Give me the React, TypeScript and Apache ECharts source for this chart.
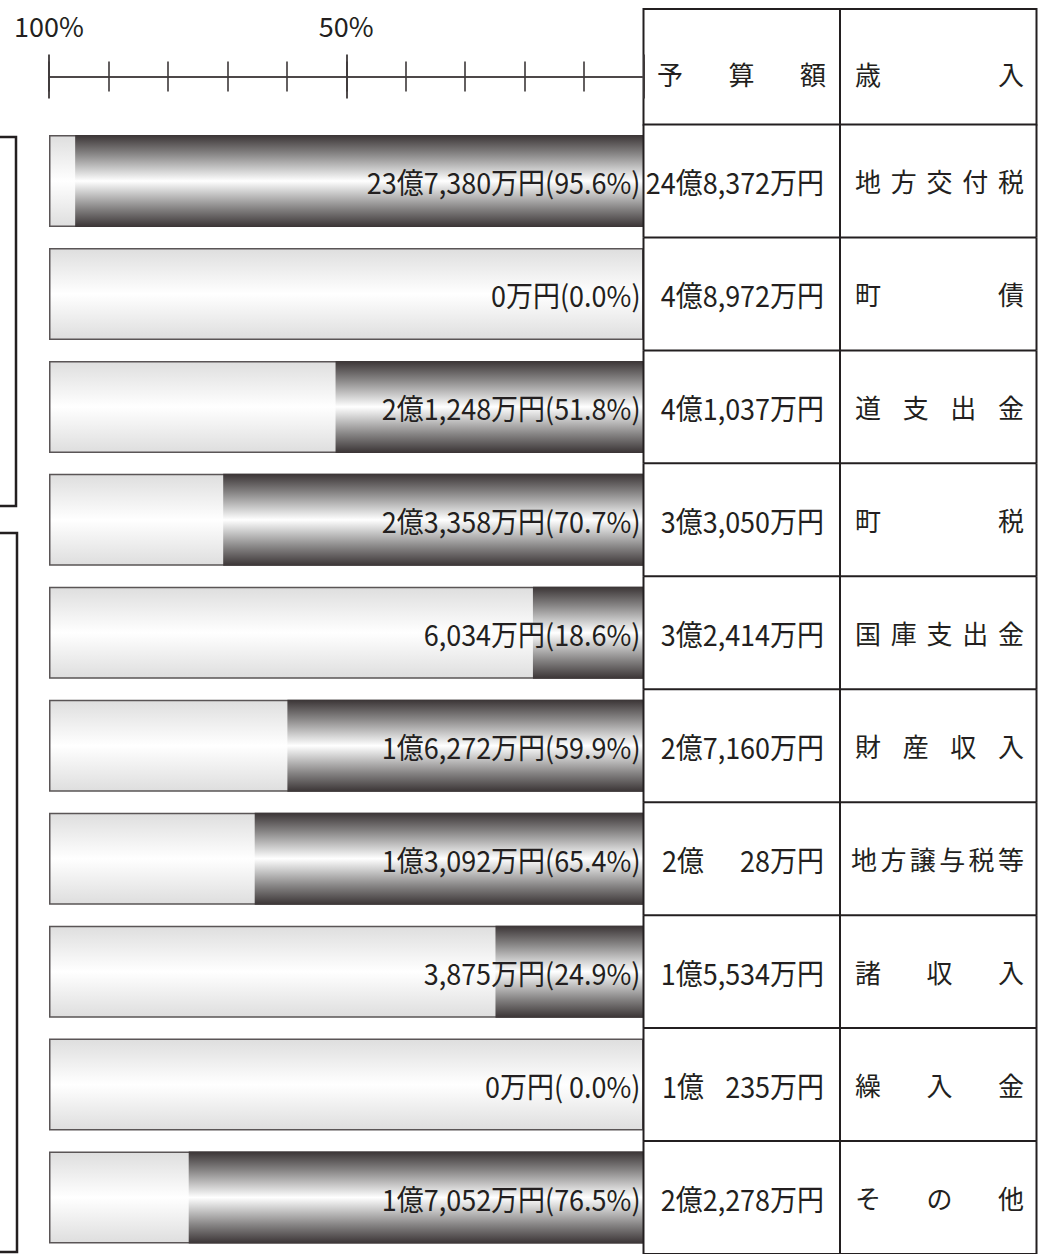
import React, { useEffect, useRef } from "react";
import * as echarts from "echarts";

// ---- data ----
const categories = ["地方交付税", "町債", "道支出金", "町税", "国庫支出金", "財産収入", "地方譲与税等", "諸収入", "繰入金", "その他"];
const budgets = ["24億8,372万円", "4億8,972万円", "4億1,037万円", "3億3,050万円", "3億2,414万円", "2億7,160万円", "2億 28万円", "1億5,534万円", "1億 235万円", "2億2,278万円"];
const received = ["23億7,380万円", "0万円", "2億1,248万円", "2億3,358万円", "6,034万円", "1億6,272万円", "1億3,092万円", "3,875万円", "0万円", "1億7,052万円"];
const rateTexts = ["95.6", "0.0", "51.8", "70.7", "18.6", "59.9", "65.4", "24.9", " 0.0", "76.5"];
const rates = rateTexts.map((t) => Number(t));
const fullShare = [100, 100, 100, 100, 100, 100, 100, 100, 100, 100];
const axisTickLabels = ["100%", "50%"];
const headerBudget = "予算額";
const headerRevenue = "歳入";

// ---- style/layout constants ----
const INK = "#231f20";
const FONT = "'Noto Sans CJK JP', 'Noto Sans', sans-serif";
const COL0 = 643.5;
const COL1 = 840;
const COL2 = 1036.5;
const TABLE_TOP = 9;
const GRID_TOP = 124.5;
const VAL_SIZE = 29;
const VAL_SCALE = 0.93;
const CJK_SIZE = 26;

const darkGrad = {
  type: "linear", x: 0, y: 0, x2: 0, y2: 1,
  colorStops: [
    { offset: 0, color: "#3a3435" },
    { offset: 0.2, color: "#858383" },
    { offset: 0.4, color: "#d6d6d6" },
    { offset: 0.5, color: "#ffffff" },
    { offset: 0.6, color: "#d6d6d6" },
    { offset: 0.8, color: "#858383" },
    { offset: 1, color: "#3a3435" },
  ],
};
const lightGrad = {
  type: "linear", x: 0, y: 0, x2: 0, y2: 1,
  colorStops: [
    { offset: 0, color: "#dedede" },
    { offset: 0.5, color: "#ffffff" },
    { offset: 1, color: "#dedede" },
  ],
};

function spreadChars(text: string, left: number, right: number, y: number, size: number) {
  const chars = Array.from(text);
  const n = chars.length;
  const out: any[] = [];
  chars.forEach((c, k) => {
    const x = n === 1 ? left : left + (k * (right - left - size)) / (n - 1);
    out.push({
      type: "text",
      x,
      y,
      style: { text: c, font: `${size}px ${FONT}`, fill: INK, align: "left", verticalAlign: "middle" },
    });
  });
  return out;
}

function valText(text: string, x: number, y: number, align: string) {
  return {
    type: "text",
    x,
    y,
    scaleX: VAL_SCALE,
    style: { text, font: `${VAL_SIZE}px ${FONT}`, fill: INK, align, verticalAlign: "middle" },
  };
}

function renderRow(params: any, api: any) {
  const i = api.value(1);
  const p = api.coord([0, i]);
  const band = api.size([0, 1])[1];
  const yc = p[1];
  const top = yc - band / 2;
  const bottom = yc + band / 2;
  const children: any[] = [];
  const lineStyle = { stroke: INK, lineWidth: 2 };
  // bar label
  children.push(valText(`${received[i]}(${rateTexts[i]}%)`, p[0] - 3, yc + 1, "right"));
  // table row lines
  children.push({ type: "line", shape: { x1: COL0, y1: bottom, x2: COL2, y2: bottom }, style: lineStyle });
  [COL0, COL1, COL2].forEach((x) =>
    children.push({ type: "line", shape: { x1: x, y1: top, x2: x, y2: bottom }, style: lineStyle })
  );
  // budget text
  const parts = budgets[i].split(" ");
  if (parts.length === 2) {
    children.push(valText(parts[0], 662, yc + 1, "left"));
    children.push(valText(parts[1], 824, yc + 1, "right"));
  } else {
    children.push(valText(budgets[i], 824, yc + 1, "right"));
  }
  // category text, justified
  const name = categories[i];
  const left = Array.from(name).length >= 6 ? 851 : 855;
  spreadChars(name, left, 1024, yc, CJK_SIZE).forEach((c) => children.push(c));
  return { type: "group", children };
}

const minorTick = (inside: boolean) => ({
  type: "value",
  min: 0,
  max: 100,
  interval: 10,
  inverse: true,
  position: "top",
  offset: GRID_TOP - 76.5,
  axisLine: { show: false },
  axisTick: { show: true, inside, length: 15, lineStyle: { color: "#3d3839", width: 1.6 } },
  axisLabel: { show: false },
  splitLine: { show: false },
});
const majorTick = (inside: boolean) => ({
  type: "value",
  min: 0,
  max: 100,
  interval: 50,
  inverse: true,
  position: "top",
  offset: GRID_TOP - 76.5,
  axisLine: { show: false },
  axisTick: { show: true, inside, length: 22, lineStyle: { color: "#3d3839", width: 1.8 } },
  axisLabel: { show: false },
  splitLine: { show: false },
});

export default function App() {
  const ref = useRef<HTMLDivElement>(null);
  useEffect(() => {
    if (!ref.current) return;
    const chart = echarts.init(ref.current, null, { renderer: "svg" });
    const option: any = {
      animation: false,
      backgroundColor: "#ffffff",
      grid: { left: 49, right: 1039 - COL0, top: GRID_TOP, height: 1130 },
      xAxis: [
        {
          type: "value",
          min: 0,
          max: 100,
          interval: 10,
          inverse: true,
          position: "top",
          offset: GRID_TOP - 76.5,
          axisLine: { show: true, lineStyle: { color: "#4d4849", width: 2 } },
          axisTick: { show: true, length: 15, lineStyle: { color: "#3d3839", width: 1.6 } },
          axisLabel: {
            show: true,
            margin: 38,
            fontFamily: FONT,
            fontSize: 27,
            color: INK,
            formatter: (v: number) => (v === 100 ? axisTickLabels[0] : v === 50 ? axisTickLabels[1] : ""),
          },
          splitLine: { show: false },
        },
        minorTick(true),
        majorTick(false),
        majorTick(true),
      ],
      yAxis: {
        type: "category",
        data: categories,
        inverse: true,
        show: false,
      },
      graphic: [
        {
          type: "rect",
          shape: { x: COL0, y: TABLE_TOP, width: COL2 - COL0, height: GRID_TOP - TABLE_TOP },
          style: { fill: "none", stroke: INK, lineWidth: 2 },
        },
        { type: "line", shape: { x1: COL1, y1: TABLE_TOP, x2: COL1, y2: GRID_TOP }, style: { stroke: INK, lineWidth: 2 } },
        ...spreadChars(headerBudget, 657, 826, 73, CJK_SIZE),
        ...spreadChars(headerRevenue, 855, 1024, 73, CJK_SIZE),
        {
          type: "polyline",
          shape: { points: [[0, 137], [16, 137], [16, 506], [0, 506]] },
          style: { fill: "none", stroke: INK, lineWidth: 2.5 },
        },
        {
          type: "polyline",
          shape: { points: [[0, 533], [17, 533], [17, 1252], [0, 1252]] },
          style: { fill: "none", stroke: INK, lineWidth: 2.5 },
        },
      ],
      series: [
        {
          type: "bar",
          data: fullShare,
          barWidth: 92,
          barGap: "-100%",
          itemStyle: { color: lightGrad, borderColor: "#5a5556", borderWidth: 1.5 },
          z: 1,
        },
        {
          type: "bar",
          data: rates,
          barWidth: 92,
          barGap: "-100%",
          itemStyle: { color: darkGrad },
          z: 2,
        },
        {
          type: "custom",
          data: categories.map((_, i) => [0, i]),
          encode: { x: 0, y: 1 },
          renderItem: renderRow,
          clip: false,
          z: 5,
        },
      ],
    };
    chart.setOption(option);
    return () => chart.dispose();
  }, []);
  return (
    <div
      ref={ref}
      style={{ position: "fixed", left: 0, top: 0, width: 1039, height: 1254, background: "#fff" }}
    />
  );
}
